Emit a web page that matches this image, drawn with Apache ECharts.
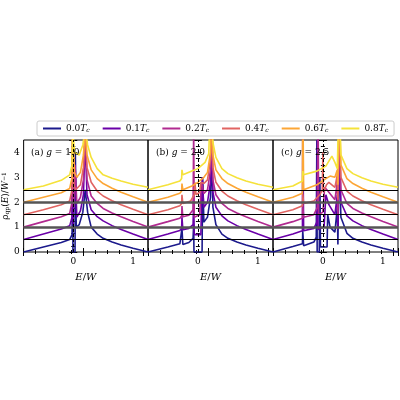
<!DOCTYPE html>
<html><head><meta charset="utf-8">
<script src="https://cdn.jsdelivr.net/npm/echarts@6/dist/echarts.min.js"></script>
<style>html,body{margin:0;padding:0;background:#fff}#c{width:400px;height:400px}</style>
</head><body><div id="c"></div>
<script>
const temps = ['0.0','0.1','0.2','0.4','0.6','0.8'];
const colors = ['#1c1a8c','#6a00a8','#b12a90','#e16462','#fca636','#f5e23a'];
const offsets = [0,0.5,1.0,1.5,2.0,2.5];
const panelLabels = ['(a) ','(b) ','(c) '];
const gValues = ['1.0','2.0','2.5'];
const yTicks = [0,1,2,3,4];
const blackLines = [0.5,1.5,2.5];
const grayLines = [1.0,2.0];

const panelA = [
 [[-0.83,0],[-0.5,0.2],[-0.2,0.38],[-0.06,0.5],[-0.02,0.7],[-0.01,4],[-0.005,0],[0.03,0],[0.035,4],[0.05,1.0],[0.1,1.1],[0.16,1.6],[0.2,2.5],[0.24,1.6],[0.3,1.0],[0.4,0.72],[0.5,0.55],[0.65,0.4],[0.8,0.28],[1.0,0.15],[1.25,0]],
 [[-0.83,0],[-0.5,0.22],[-0.2,0.42],[-0.06,0.55],[-0.02,0.9],[-0.01,4],[0,0.6],[0.02,0.6],[0.03,3],[0.06,0.9],[0.12,1.15],[0.17,1.8],[0.2,4],[0.23,1.8],[0.3,1.2],[0.4,0.92],[0.5,0.75],[0.65,0.56],[0.8,0.4],[1.0,0.22],[1.25,0]],
 [[-0.83,0],[-0.5,0.22],[-0.2,0.42],[-0.06,0.55],[-0.02,1.0],[-0.01,4],[0.005,0.8],[0.03,2.5],[0.06,0.95],[0.12,1.2],[0.17,1.9],[0.2,4],[0.23,1.9],[0.3,1.25],[0.4,0.95],[0.5,0.75],[0.65,0.57],[0.8,0.42],[1.0,0.23],[1.25,0]],
 [[-0.83,0],[-0.5,0.2],[-0.2,0.4],[-0.06,0.55],[-0.02,1.0],[-0.01,3.5],[0.01,1.2],[0.04,1.0],[0.12,1.2],[0.17,1.9],[0.2,3.5],[0.23,1.9],[0.3,1.3],[0.4,0.95],[0.5,0.75],[0.65,0.56],[0.8,0.4],[1.0,0.22],[1.25,0]],
 [[-0.83,0],[-0.5,0.2],[-0.2,0.38],[-0.06,0.55],[-0.02,1.0],[-0.01,3],[0.02,1.2],[0.06,1.0],[0.12,1.2],[0.17,1.9],[0.2,3],[0.23,1.9],[0.3,1.3],[0.4,0.95],[0.5,0.75],[0.65,0.56],[0.8,0.4],[1.0,0.22],[1.25,0]],
 [[-0.83,0],[-0.5,0.15],[-0.2,0.38],[-0.06,0.6],[-0.02,1.0],[-0.01,2.5],[0.02,1.5],[0.1,1.4],[0.16,1.8],[0.2,2.5],[0.24,1.8],[0.3,1.3],[0.4,0.85],[0.5,0.6],[0.65,0.46],[0.8,0.35],[1.0,0.22],[1.25,0.1]]
];
const panelB = [
 [[-0.83,0],[-0.5,0.2],[-0.3,0.33],[-0.27,0.4],[-0.265,0.95],[-0.25,0.3],[-0.15,0.38],[-0.08,0.55],[-0.07,1.1],[-0.065,0],[0.07,0],[0.08,3],[0.1,1.2],[0.16,1.4],[0.21,2.2],[0.23,4],[0.25,1.8],[0.3,1.1],[0.4,0.72],[0.5,0.55],[0.65,0.4],[0.8,0.28],[1.0,0.15],[1.25,0]],
 [[-0.83,0],[-0.5,0.22],[-0.3,0.36],[-0.27,0.45],[-0.265,0.9],[-0.25,0.4],[-0.15,0.45],[-0.08,0.6],[-0.07,1.6],[-0.06,0.2],[0.05,0.2],[0.07,2.5],[0.1,1.3],[0.16,1.5],[0.21,2.3],[0.23,4],[0.25,1.9],[0.3,1.3],[0.4,0.95],[0.5,0.75],[0.65,0.56],[0.8,0.4],[1.0,0.22],[1.25,0]],
 [[-0.83,0],[-0.5,0.22],[-0.3,0.36],[-0.27,0.45],[-0.265,0.85],[-0.25,0.42],[-0.15,0.48],[-0.08,0.7],[-0.07,4],[-0.06,0.4],[0.03,0.5],[0.06,1.8],[0.1,1.35],[0.16,1.5],[0.21,2.3],[0.23,4],[0.25,1.9],[0.3,1.3],[0.4,0.95],[0.5,0.75],[0.65,0.57],[0.8,0.42],[1.0,0.23],[1.25,0]],
 [[-0.83,0],[-0.5,0.2],[-0.3,0.36],[-0.27,0.45],[-0.265,0.8],[-0.25,0.45],[-0.12,0.55],[-0.06,0.8],[-0.05,1.3],[-0.03,0.8],[0.03,0.9],[0.05,1.3],[0.1,1.25],[0.16,1.4],[0.21,2.2],[0.23,4],[0.25,1.9],[0.3,1.3],[0.4,0.95],[0.5,0.75],[0.65,0.56],[0.8,0.4],[1.0,0.22],[1.25,0]],
 [[-0.83,0],[-0.5,0.2],[-0.3,0.36],[-0.27,0.45],[-0.265,0.75],[-0.25,0.5],[-0.1,0.65],[0,0.8],[0.1,1.0],[0.16,1.2],[0.21,2.0],[0.23,4],[0.25,1.9],[0.3,1.3],[0.4,0.95],[0.5,0.75],[0.65,0.56],[0.8,0.4],[1.0,0.22],[1.25,0]],
 [[-0.83,0],[-0.5,0.2],[-0.3,0.35],[-0.27,0.45],[-0.265,0.8],[-0.25,0.6],[-0.1,0.75],[0,0.85],[0.12,1.1],[0.18,1.45],[0.22,4],[0.25,1.9],[0.3,1.3],[0.4,0.85],[0.5,0.65],[0.65,0.48],[0.8,0.35],[1.0,0.22],[1.25,0.1]]
];
const panelC = [
 [[-0.83,0],[-0.5,0.22],[-0.34,0.33],[-0.335,0.85],[-0.32,0.25],[-0.15,0.4],[-0.11,0.6],[-0.1,4.5],[-0.095,0],[-0.06,0],[-0.05,3],[-0.04,0.2],[0.07,0.2],[0.08,1.5],[0.12,1.0],[0.2,0.8],[0.24,1.8],[0.25,0.3],[0.27,4],[0.3,1.4],[0.4,0.75],[0.5,0.55],[0.65,0.4],[0.8,0.28],[1.0,0.15],[1.25,0]],
 [[-0.83,0],[-0.5,0.22],[-0.34,0.35],[-0.335,4.5],[-0.32,0.35],[-0.15,0.45],[-0.1,0.7],[-0.09,4],[-0.08,0.4],[0.02,0.5],[0.05,1.8],[0.1,1.4],[0.2,1.0],[0.24,1.8],[0.25,0.4],[0.27,4],[0.3,1.5],[0.4,0.95],[0.5,0.75],[0.65,0.56],[0.8,0.4],[1.0,0.22],[1.25,0]],
 [[-0.83,0],[-0.5,0.22],[-0.34,0.36],[-0.335,0.9],[-0.32,0.4],[-0.15,0.5],[-0.09,0.8],[-0.08,4.5],[-0.07,0.5],[0.0,0.6],[0.03,1.6],[0.1,1.4],[0.2,1.1],[0.24,1.8],[0.25,0.5],[0.27,4],[0.3,1.5],[0.4,0.95],[0.5,0.75],[0.65,0.57],[0.8,0.42],[1.0,0.23],[1.25,0]],
 [[-0.83,0],[-0.5,0.2],[-0.34,0.36],[-0.335,0.85],[-0.32,0.45],[-0.15,0.55],[-0.05,0.8],[-0.01,1.0],[0,2.5],[0.01,0.9],[0.06,1.2],[0.1,1.3],[0.2,1.1],[0.24,1.6],[0.25,0.6],[0.27,4],[0.3,1.5],[0.4,0.95],[0.5,0.75],[0.65,0.56],[0.8,0.4],[1.0,0.22],[1.25,0]],
 [[-0.83,0],[-0.5,0.2],[-0.34,0.36],[-0.335,4.5],[-0.32,0.5],[-0.1,0.7],[0.05,0.95],[0.12,1.05],[0.2,1.0],[0.24,1.3],[0.25,0.7],[0.27,4],[0.3,1.5],[0.4,0.95],[0.5,0.75],[0.65,0.56],[0.8,0.4],[1.0,0.22],[1.25,0]],
 [[-0.83,0],[-0.5,0.15],[-0.34,0.35],[-0.335,0.75],[-0.32,0.6],[-0.1,0.75],[0.05,0.95],[0.15,1.35],[0.2,1.1],[0.24,0.85],[0.27,4],[0.3,1.4],[0.4,0.85],[0.5,0.65],[0.65,0.48],[0.8,0.35],[1.0,0.22],[1.25,0.1]]
];
const panels = [panelA, panelB, panelC];

const gridLefts = [23,148,273];
const font = 'DejaVu Serif';
const grids = [], xAxes = [], yAxes = [], series = [], titles = [];
const tickStyle = {inside:true,length:4,lineStyle:{color:'#000'}};
panels.forEach((p, k) => {
  grids.push({left: gridLefts[k], top: 140, width: 125, height: 112, show: true, borderColor: '#000', borderWidth: 1, containLabel: false});
  ['bottom','top'].forEach((pos, j) => {
    xAxes.push({type:'value', gridIndex:k, position:pos, min:-0.83, max:1.25, interval:1,
      name: j===0 ? '{i|E}/{i|W}' : '', nameLocation:'middle', nameGap:20,
      nameTextStyle:{fontFamily:font, fontSize:10, color:'#000', rich:{i:{fontStyle:'italic',fontFamily:font,fontSize:10}}},
      axisLine:{show:false}, axisTick:tickStyle,
      minorTick:{show:true,splitNumber:5,length:2,lineStyle:{color:'#000'}},
      splitLine:{show:false},
      axisLabel:{show:j===0,fontFamily:font,fontSize:9,color:'#000',margin:5,
        customValues:[0,1], formatter: v => String(v)}});
  });
  ['left','right'].forEach((pos, j) => {
    yAxes.push({type:'value', gridIndex:k, position:pos, min:0, max:4.5, interval:1,
      name: (k===0 && j===0) ? 'ρ{s|qp}({i|E})/{i|W}{u|−1}' : '', nameLocation:'middle', nameGap:12,
      nameTextStyle:{fontFamily:font,fontSize:9,color:'#000',rich:{s:{fontSize:6,fontFamily:font,verticalAlign:'bottom'},i:{fontStyle:'italic',fontFamily:font,fontSize:9},u:{fontSize:6,fontFamily:font,verticalAlign:'top'}}},
      axisLine:{show:false}, axisTick:tickStyle,
      minorTick:{show:true,splitNumber:4,length:2,lineStyle:{color:'#000'}},
      splitLine:{show:false},
      axisLabel:{show:k===0 && j===0,fontFamily:font,fontSize:9,color:'#000',margin:4,
        formatter: v => (yTicks.includes(v) ? String(v) : '')}});
  });
  p.forEach((curve, i) => {
    series.push({type:'line', name: temps[i], xAxisIndex:2*k, yAxisIndex:2*k, showSymbol:false,
      lineStyle:{width:1.6,color:colors[i]}, itemStyle:{color:colors[i]}, clip:true, z: 3,
      data: curve.map(pt => [pt[0], pt[1] + offsets[i]])});
  });
  series.push({type:'line', xAxisIndex:2*k, yAxisIndex:2*k, data:[], z:5, silent:true,
    markLine:{symbol:'none', silent:true, label:{show:false}, animation:false,
      data: [
        ...blackLines.map(v => ({yAxis:v, lineStyle:{color:'#000',width:1,type:'solid'}})),
        ...grayLines.map(v => ({yAxis:v, lineStyle:{color:'#555',width:2.5,type:'solid'}})),
        {xAxis:0, lineStyle:{color:'#000',width:1,type:[3,2]}}
      ]}});
  titles.push({text: panelLabels[k] + '{i|g} = ' + gValues[k], left: gridLefts[k]+3, top: 143,
    textStyle:{fontFamily:font,fontSize:9,fontWeight:'normal',color:'#000',rich:{i:{fontStyle:'italic',fontFamily:font,fontSize:9}}}});
});

const chart = echarts.init(document.getElementById('c'), null, {renderer:'canvas'});
chart.setOption({
  animation:false,
  title: titles,
  legend:{data: temps, left:37, top:121, right:12, itemWidth:18, itemHeight:2, itemGap:13,
    borderColor:'#ccc', borderWidth:1, borderRadius:2, padding:[3,6],
    icon:'rect',
    formatter: n => n + '{i|T}{s|c}',
    textStyle:{fontFamily:font,fontSize:9,color:'#000',rich:{i:{fontStyle:'italic',fontFamily:font,fontSize:9},s:{fontStyle:'italic',fontFamily:font,fontSize:6,verticalAlign:'bottom'}}}},
  grid: grids, xAxis: xAxes, yAxis: yAxes, series: series
});
</script></body></html>
